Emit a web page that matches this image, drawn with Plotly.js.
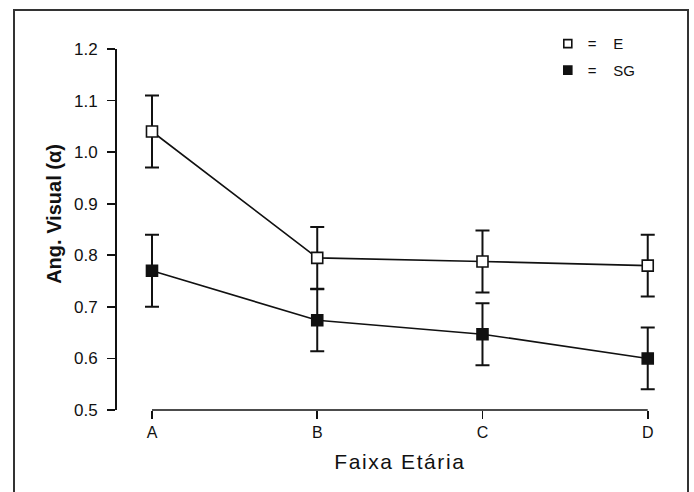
<!DOCTYPE html>
<html><head><meta charset="utf-8">
<script src="https://cdn.plot.ly/plotly-3.0.1.min.js"></script>
<style>
html,body{margin:0;padding:0;width:694px;height:492px;overflow:hidden;background:#fff;}
#chart{position:absolute;left:0;top:0;width:694px;height:492px;}
#frame{position:absolute;left:13px;top:9px;width:672px;height:520px;border:2px solid #333;pointer-events:none;}
#chart .xtitle{letter-spacing:1.6px;}
</style></head><body>
<div id="chart"></div><div id="frame"></div>
<script>
const categories = ['A', 'B', 'C', 'D'];
const seriesE = [1.04, 0.795, 0.788, 0.780];
const errE = [0.07, 0.06, 0.06, 0.06];
const seriesSG = [0.77, 0.674, 0.647, 0.600];
const errSG = [0.07, 0.06, 0.06, 0.06];
const yTicks = [0.5, 0.6, 0.7, 0.8, 0.9, 1.0, 1.1, 1.2];
const yTickLabels = ['0.5', '0.6', '0.7', '0.8', '0.9', '1.0', '1.1', '1.2'];
const legendNames = ['=\u00a0\u00a0\u00a0\u00a0E', '=\u00a0\u00a0\u00a0\u00a0SG'];

const FONT = 'Liberation Sans, Arial, sans-serif';

const traceE = {
  x: categories, y: seriesE, type: 'scatter', mode: 'lines+markers',
  line: {color: '#111', width: 1.6},
  marker: {symbol: 'square', size: 11, color: '#fff', line: {color: '#111', width: 1.6}},
  error_y: {type: 'data', array: errE, visible: true, color: '#111', thickness: 2, width: 7},
  cliponaxis: false, showlegend: false
};
const traceSG = {
  x: categories, y: seriesSG, type: 'scatter', mode: 'lines+markers',
  line: {color: '#111', width: 1.6},
  marker: {symbol: 'square', size: 11, color: '#111', line: {color: '#111', width: 1.6}},
  error_y: {type: 'data', array: errSG, visible: true, color: '#111', thickness: 2, width: 7},
  cliponaxis: false, showlegend: false
};
const legE = {
  x: [null], y: [null], type: 'scatter', mode: 'markers', name: legendNames[0], legendgroup: 'e',
  marker: {symbol: 'square', size: 8, color: '#fff', line: {color: '#111', width: 1.6}}
};
const legSG = {
  x: [null], y: [null], type: 'scatter', mode: 'markers', name: legendNames[1], legendgroup: 'sg',
  marker: {symbol: 'square', size: 8, color: '#111', line: {color: '#111', width: 1.6}}
};

const layout = {
  width: 694, height: 492,
  margin: {l: 115, r: 38, t: 49, b: 82},
  paper_bgcolor: '#fff', plot_bgcolor: '#fff',
  font: {family: FONT, color: '#111'},
  showlegend: true,
  legend: {x: 0.8, y: 1.06, xanchor: 'left', yanchor: 'top', traceorder: 'grouped',
           tracegroupgap: 4, font: {size: 15, family: FONT, color: '#111'}, bgcolor: 'rgba(0,0,0,0)'},
  xaxis: {
    type: 'category', categoryorder: 'array', categoryarray: categories,
    range: [-0.05, categories.length - 1 + 0.05], domain: [0.0531, 1],
    showline: false,
    ticks: 'outside', ticklen: 8, tickwidth: 1.6, tickcolor: '#111',
    showgrid: false, zeroline: false,
    tickfont: {size: 16, family: FONT, color: '#111'},
    title: {text: 'Faixa Etária', font: {size: 21, family: FONT, color: '#111', weight: 500}, standoff: 14}
  },
  yaxis: {
    anchor: 'free', position: 0,
    range: [yTicks[0], yTicks[yTicks.length - 1]], tickvals: yTicks, ticktext: yTickLabels,
    showline: true, linecolor: '#111', linewidth: 1.6,
    ticks: 'outside', ticklen: 8, tickwidth: 1.6, tickcolor: '#111',
    ticklabelstandoff: 6,
    showgrid: false, zeroline: false,
    tickfont: {size: 17, family: FONT, color: '#111'}
  },
  shapes: [{
    type: 'line', xref: 'x', yref: 'paper',
    x0: categories[0], x1: categories[categories.length - 1], y0: 0, y1: 0,
    line: {color: '#111', width: 1.6}, layer: 'above'
  }],
  annotations: [{
    text: 'Ang. Visual (α)', xref: 'paper', yref: 'paper', x: -0.113, y: 0.543,
    xanchor: 'center', yanchor: 'middle', textangle: -90, showarrow: false,
    font: {size: 20, family: FONT, color: '#111', weight: 'bold'}
  }]
};

Plotly.newPlot('chart', [traceE, traceSG, legE, legSG], layout, {displayModeBar: false, staticPlot: true});
</script>
</body></html>
